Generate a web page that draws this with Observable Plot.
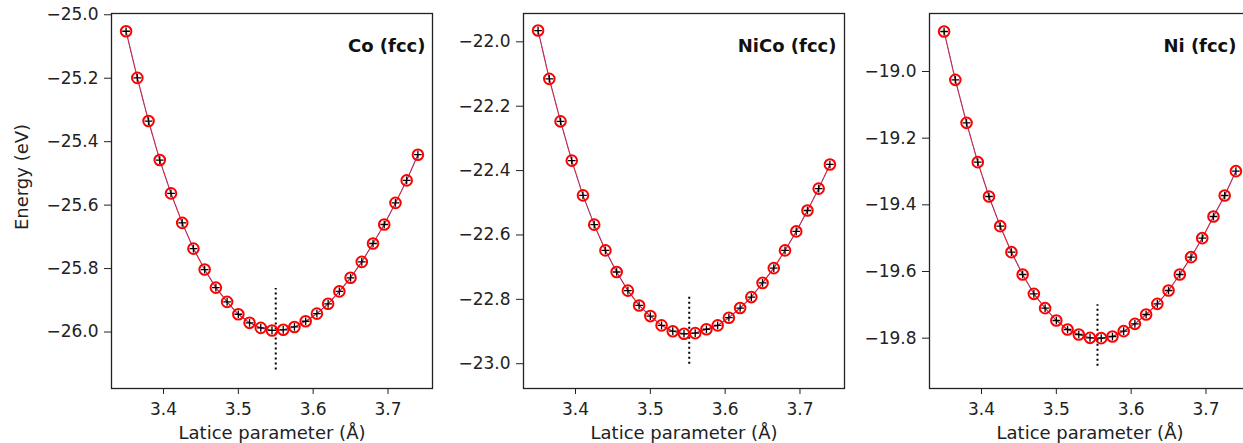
<!DOCTYPE html>
<html>
<head>
<meta charset="utf-8">
<script src="https://cdn.jsdelivr.net/npm/d3@7"></script>
<script src="https://cdn.jsdelivr.net/npm/@observablehq/plot@0.6"></script>
<style>
  html, body { margin: 0; padding: 0; background: #fff; overflow: hidden; }
  #fig { position: relative; width: 1243px; height: 443px; overflow: hidden; }
  #fig svg { position: absolute; top: 0; overflow: visible; }
</style>
</head>
<body>
<div id="fig"></div>
<script>
// Lattice parameters scanned (Å), shared by the three structures
const lattice = [3.350, 3.365, 3.380, 3.395, 3.410, 3.425, 3.440, 3.455, 3.470,
                 3.485, 3.500, 3.515, 3.530, 3.545, 3.560, 3.575, 3.590, 3.605,
                 3.620, 3.635, 3.650, 3.665, 3.680, 3.695, 3.710, 3.725, 3.740];

// Total energies (eV) at each lattice parameter
const energyCo = [-25.052, -25.199, -25.335, -25.458, -25.563, -25.656, -25.737, -25.803, -25.860,
                  -25.905, -25.944, -25.971, -25.987, -25.995, -25.993, -25.984, -25.966, -25.942,
                  -25.911, -25.872, -25.829, -25.779, -25.721, -25.661, -25.593, -25.522, -25.441];
const energyNiCo = [-21.965, -22.115, -22.247, -22.369, -22.477, -22.568, -22.648, -22.715, -22.773,
                    -22.819, -22.852, -22.881, -22.899, -22.907, -22.905, -22.893, -22.881, -22.857,
                    -22.827, -22.793, -22.749, -22.703, -22.648, -22.589, -22.524, -22.456, -22.381];
const energyNi = [-18.880, -19.025, -19.154, -19.272, -19.375, -19.464, -19.542, -19.609, -19.667,
                  -19.710, -19.747, -19.774, -19.789, -19.799, -19.800, -19.795, -19.779, -19.757,
                  -19.729, -19.697, -19.657, -19.609, -19.557, -19.500, -19.435, -19.372, -19.299];

// Equilibrium lattice parameter marker (x) and its vertical extent (eV)
const eqCo = {a0: 3.550, e1: -26.120, e2: -25.863};
const eqNiCo = {a0: 3.552, e1: -23.002, e2: -22.788};
const eqNi = {a0: 3.555, e1: -19.884, e2: -19.700};

// Panel titles and tick values
const titles = ["Co (fcc)", "NiCo (fcc)", "Ni (fcc)"];
const xTicks = [3.4, 3.5, 3.6, 3.7];
const yTicksCo = [-26.0, -25.8, -25.6, -25.4, -25.2, -25.0];
const yTicksNiCo = [-23.0, -22.8, -22.6, -22.4, -22.2, -22.0];
const yTicksNi = [-19.8, -19.6, -19.4, -19.2, -19.0];
const xLabel = "Latice parameter (Å)";
const yLabel = "Energy (eV)";

const fmt = d3.format(".1f");
const font = "DejaVu Sans, Verdana, sans-serif";
const fig = document.getElementById("fig");

function panel({energy, eq, title, yDomain, yTicks, left, marginLeft, marginRight, titleDx, withYLabel}) {
  const data = lattice.map((a, i) => ({a, e: energy[i]}));
  const marks = [
    Plot.axisX({ticks: xTicks, tickFormat: fmt, tickSize: 6, tickPadding: 8, fontSize: 17, label: null}),
    Plot.axisY({ticks: yTicks, tickFormat: fmt, tickSize: 7, tickPadding: 6, fontSize: 17, label: null}),
    Plot.ruleX([eq], {x: "a0", y1: "e1", y2: "e2", stroke: "#000", strokeWidth: 2, strokeDasharray: "2,3"}),
    Plot.line(data, {x: "a", y: "e", stroke: "#e8101a", strokeWidth: 1.1}),
    Plot.line(data, {x: "a", y: "e", stroke: "#5a58c8", strokeWidth: 0.8, strokeDasharray: "2.5,2.5", strokeOpacity: 0.8}),
    Plot.dot(data, {x: "a", y: "e", r: 5.3, stroke: "#ff0000", strokeWidth: 2, fill: "none"}),
    Plot.dot(data, {x: "a", y: "e", symbol: "plus", r: 2.6, stroke: "#000", strokeWidth: 1.3}),
    Plot.frame({stroke: "#222", strokeWidth: 1.3}),
    Plot.text([title], {frameAnchor: "top-right", dx: titleDx, dy: 32.5, textAnchor: "end",
                        lineAnchor: "middle", fontWeight: "bold", fontSize: 18, fill: "#111"}),
    Plot.text([xLabel], {frameAnchor: "bottom", dy: 45, textAnchor: "middle", lineAnchor: "middle",
                         fontSize: 18, fill: "#222"})
  ];
  if (withYLabel) {
    marks.push(Plot.text([yLabel], {frameAnchor: "left", dx: -89, dy: -24, rotate: -90,
                                    textAnchor: "middle", lineAnchor: "middle", fontSize: 18, fill: "#222"}));
  }
  const chart = Plot.plot({
    width: marginLeft + 321 + marginRight,
    height: 443,
    marginTop: 13,
    marginBottom: 55,
    marginLeft,
    marginRight,
    style: {fontFamily: font, fontSize: "17px", color: "#222", background: "transparent"},
    x: {domain: [3.3305, 3.7595]},
    y: {domain: yDomain},
    marks
  });
  chart.style.left = left + "px";
  fig.appendChild(chart);
}

panel({energy: energyCo, eq: eqCo, title: titles[0], yDomain: [-26.178, -24.996], yTicks: yTicksCo,
       left: 0, marginLeft: 111, marginRight: 10, titleDx: -7, withYLabel: true});
panel({energy: energyNiCo, eq: eqNiCo, title: titles[1], yDomain: [-23.077, -21.912], yTicks: yTicksNiCo,
       left: 443, marginLeft: 80, marginRight: 10, titleDx: -8, withYLabel: false});
panel({energy: energyNi, eq: eqNi, title: titles[2], yDomain: [-19.951, -18.826], yTicks: yTicksNi,
       left: 849, marginLeft: 80, marginRight: 0, titleDx: -14, withYLabel: false});
</script>
</body>
</html>
